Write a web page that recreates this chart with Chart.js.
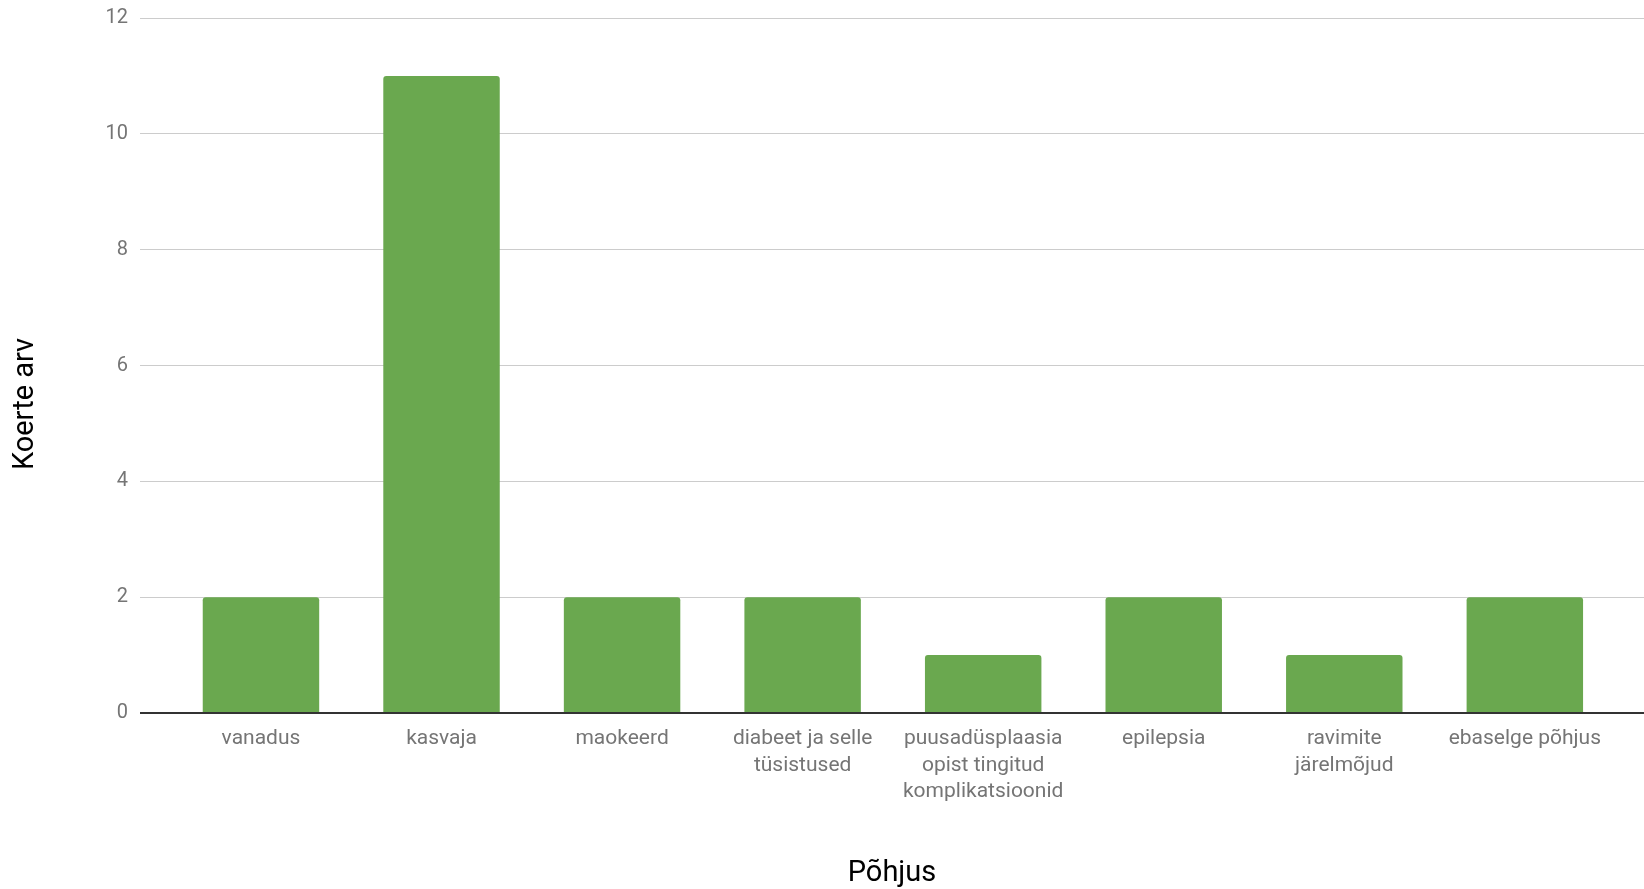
<!DOCTYPE html>
<html lang="et">
<head>
<meta charset="utf-8">
<title>Koerte arv põhjuse järgi</title>
<script src="https://cdn.jsdelivr.net/npm/chart.js@4"></script>
<style>
    html, body { margin: 0; padding: 0; background: #fff; }
    #graafik { display: block; }
</style>
</head>
<body>
<canvas id="graafik" width="1644" height="889"></canvas>
<script>
// Andmed
const pohjused = [
    'vanadus',
    'kasvaja',
    'maokeerd',
    ['diabeet ja selle', 'tüsistused'],
    ['puusadüsplaasia', 'opist tingitud', 'komplikatsioonid'],
    'epilepsia',
    ['ravimite', 'järelmõjud'],
    'ebaselge põhjus'
];
const koerteArv = [2, 11, 2, 2, 1, 2, 1, 2];
const yTicks = [0, 2, 4, 6, 8, 10, 12];

const tickVarv = '#757575';
const ruuduVarv = '#cccccc';

// y-telje pealkiri (Google Sheets paneb selle veidi allapoole kui graafiku keskkoht)
const yPealkiri = {
    id: 'yPealkiri',
    afterDraw(chart) {
        const ctx = chart.ctx;
        ctx.save();
        ctx.translate(26, 404);
        ctx.rotate(-Math.PI / 2);
        ctx.font = '29px Roboto';
        ctx.fillStyle = '#000';
        ctx.textAlign = 'center';
        ctx.textBaseline = 'middle';
        ctx.fillText('Koerte arv', 0, 0);
        ctx.restore();
    }
};

const ctx = document.getElementById('graafik').getContext('2d');

new Chart(ctx, {
    type: 'bar',
    data: {
        datasets: [{
            label: 'Koerte arv',
            data: koerteArv.map((v, i) => ({ x: i, y: v })),
            backgroundColor: '#6aa84f',
            borderRadius: 3,
            borderSkipped: 'start',
            categoryPercentage: 1,
            barPercentage: 0.645
        }]
    },
    options: {
        responsive: false,
        animation: false,
        layout: { padding: { top: 18, right: 0, left: 0, bottom: 0 } },
        plugins: {
            legend: { display: false },
            tooltip: { enabled: false }
        },
        font: { family: 'Roboto' },
        scales: {
            x: {
                type: 'linear',
                offset: false,
                min: -0.67,
                max: pohjused.length - 1 + 0.66,
                grid: { display: false, drawTicks: false, offset: false },
                border: { display: false },
                afterFit: (scale) => { scale.height = 176; },
                afterBuildTicks: (scale) => {
                    scale.ticks = pohjused.map((_, i) => ({ value: i }));
                },
                ticks: {
                    autoSkip: false,
                    maxRotation: 0,
                    minRotation: 0,
                    padding: 13,
                    color: tickVarv,
                    font: { family: 'Roboto', size: 21, lineHeight: 1.25 },
                    callback: (v) => pohjused[v] ?? ''
                },
                title: {
                    display: true,
                    text: 'Põhjus',
                    color: '#000',
                    font: { family: 'Roboto', size: 29, lineHeight: 1.05 },
                    padding: { top: 0, bottom: 0 }
                }
            },
            y: {
                min: 0,
                max: 12,
                afterFit: (scale) => {
                    scale.width = 140;
                    scale.paddingTop = 0;
                    scale.paddingBottom = 0;
                },
                afterBuildTicks: (scale) => {
                    scale.ticks = yTicks.map(v => ({ value: v }));
                },
                grid: {
                    drawTicks: false,
                    color: (c) => c.tick && c.tick.value === 0 ? '#333333' : ruuduVarv,
                    lineWidth: (c) => c.tick && c.tick.value === 0 ? 2 : 1
                },
                border: { display: false },
                ticks: {
                    padding: 12,
                    color: tickVarv,
                    font: { family: 'Roboto', size: 20 }
                }
            }
        }
    },
    plugins: [yPealkiri]
});
</script>
</body>
</html>
